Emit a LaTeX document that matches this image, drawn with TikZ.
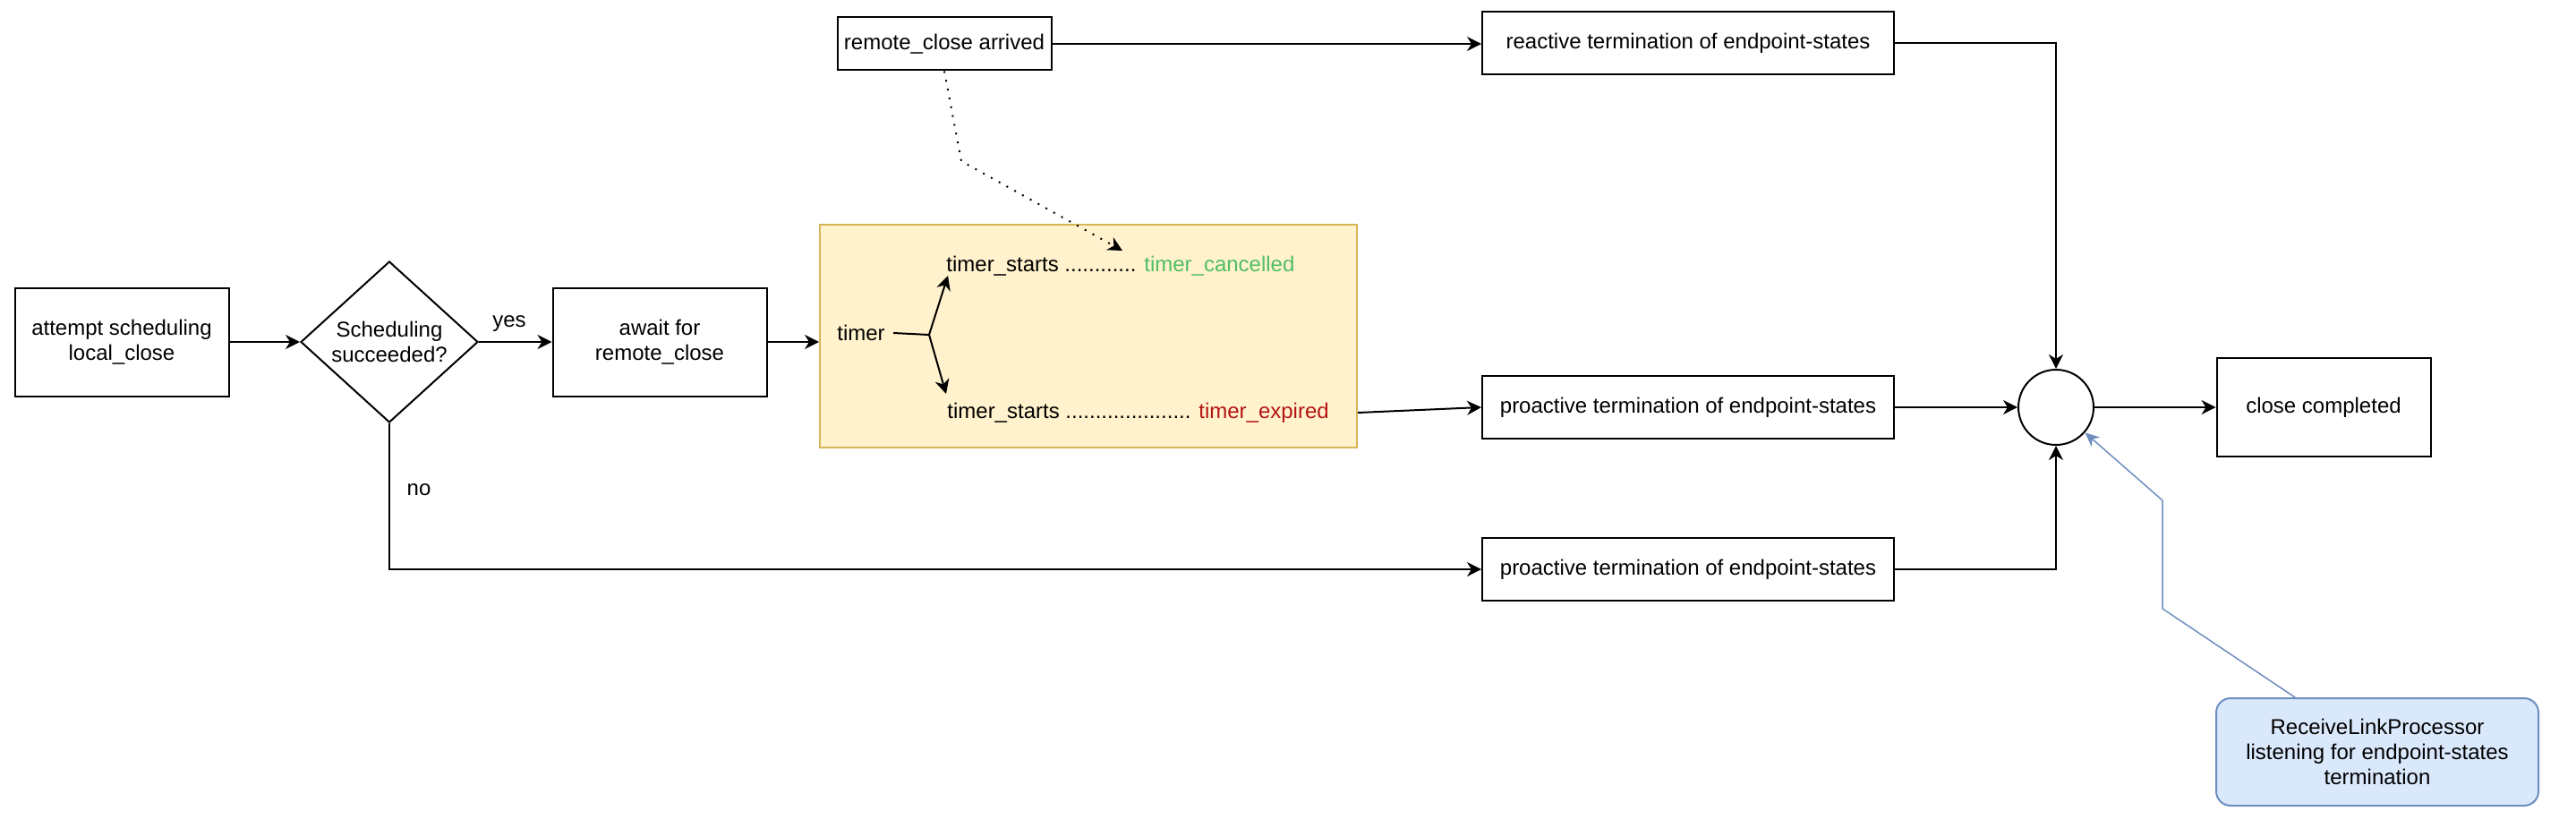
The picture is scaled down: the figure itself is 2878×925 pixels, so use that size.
\documentclass[tikz,border=0pt]{standalone}
\usepackage{fontspec}
\setmainfont{Liberation Sans}
\usetikzlibrary{shapes.geometric,arrows.meta,calc}
\definecolor{yfill}{HTML}{FFF2CC}
\definecolor{ydraw}{HTML}{D6B656}
\definecolor{bfill}{HTML}{DAE8FC}
\definecolor{bdraw}{HTML}{6C8EBF}
\definecolor{tgreen}{RGB}{80,190,100}
\definecolor{tred}{RGB}{180,20,20}
\begin{document}
\begin{tikzpicture}[x=0.5pt,y=-0.5pt,
  font=\fontsize{12}{13.8}\selectfont,
  box/.style={draw,line width=1pt,align=center,inner sep=0pt},
  tip/.style={-{Stealth[length=8pt,width=8pt,inset=2.5pt]}},
  arr/.style={line width=1pt,tip},
  lbl/.style={inner sep=0pt}]
\useasboundingbox (0,0) rectangle (2878,925);
% nodes
\node[box,minimum width=119.5pt,minimum height=60.5pt] (A) at (136,382) {attempt scheduling\\local\_close};
\node[draw,line width=1pt,shape=diamond,aspect=1.1,minimum width=99pt,minimum height=90pt,inner sep=0pt,align=center] (D) at (435,382) {Scheduling\\succeeded?};
\node[box,minimum width=119.5pt,minimum height=60.5pt] (B) at (737,382) {await for\\remote\_close};
\node[draw=ydraw,fill=yfill,line width=1pt,minimum width=300pt,minimum height=124pt,inner sep=0pt] (Y) at (1216,375.5) {};
\node[lbl] (T) at (962,372) {timer};
\node[lbl,anchor=west] (T1) at (1057,297) {timer\_starts ............ \textcolor{tgreen}{timer\_cancelled}};
\node[lbl,anchor=west] (T2) at (1058,461) {timer\_starts ..................... \textcolor{tred}{timer\_expired}};
\coordinate (F) at (1038,374);
\coordinate (F1) at (1059,308);
\coordinate (F2) at (1057,440);
\node[box,minimum width=119.5pt,minimum height=29.5pt] (R) at (1055,49) {remote\_close arrived};
\node[box,minimum width=230pt,minimum height=35pt] (RT) at (1886,48) {reactive termination of endpoint-states};
\node[box,minimum width=230pt,minimum height=35pt] (P1) at (1886,455) {proactive termination of endpoint-states};
\node[box,minimum width=230pt,minimum height=35pt] (P2) at (1886,636) {proactive termination of endpoint-states};
\node[draw,line width=1pt,circle,minimum size=42pt,inner sep=0pt] (C) at (2297,455) {};
\node[box,minimum width=119.5pt,minimum height=55pt] (CC) at (2596,455) {close completed};
\node[draw=bdraw,fill=bfill,line width=1pt,rounded corners=8pt,minimum width=180pt,minimum height=60pt,align=center,inner sep=0pt,font=\fontsize{12}{14}\selectfont] (RL) at (2656,840) {ReceiveLinkProcessor\\listening for endpoint-states\\termination};
\node[lbl] (yes) at (569,362) {yes};
\node[lbl] (no) at (468,547) {no};
\coordinate (Dk) at (1074,180);
\coordinate (Dt) at (1254,280);
\coordinate (L0) at ([xshift=44.5pt]RL.north west);
\coordinate (L1) at (2416,680);
\coordinate (L2) at (2416,559);
% connectors
\draw[arr] (A) -- (D);
\draw[arr] (D) -- (B);
\draw[arr] (B.east) -- (B.east -| Y.west);
\draw[line width=1pt] ([xshift=4.5pt]T.east) -- (F);
\draw[arr] (F) -- (F1);
\draw[arr] (F) -- (F2);
\draw[arr] (Y.east |- T2) -- (P1.west);
\draw[arr] (D.south) |- (P2.west);
\draw[arr] (R.east) -- (R.east -| RT.west);
\draw[line width=1pt,dash pattern=on 1pt off 4pt,tip] (R.south) -- (Dk) -- (Dt);
\draw[arr] (RT.east) -| (C.north);
\draw[arr] (P1.east) -- (C.west);
\draw[arr] (P2.east) -| (C.south);
\draw[arr] (C.east) -- (CC.west);
\draw[draw=bdraw,line width=0.75pt,-{Stealth[length=8pt,width=7pt,inset=2.5pt,fill=bdraw]}] (L0) -- (L1) -- (L2) -- (C);
\end{tikzpicture}
\end{document}
